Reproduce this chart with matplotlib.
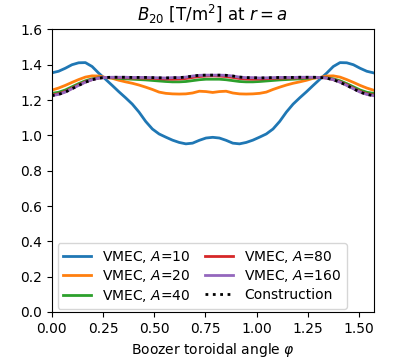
import numpy as np
import matplotlib.pyplot as plt

# Boozer toroidal angle samples over one field period (0 .. pi/2)
phi = np.linspace(0, np.pi / 2, 49)

# B20 at r = a
b20_a10 = [1.354, 1.363, 1.380, 1.400, 1.411, 1.412, 1.390, 1.352, 1.318, 1.283,
           1.247, 1.213, 1.177, 1.132, 1.079, 1.036, 1.008, 0.990, 0.973, 0.960,
           0.952, 0.956, 0.972, 0.985, 0.989, 0.985, 0.972, 0.956, 0.952, 0.960,
           0.973, 0.990, 1.008, 1.036, 1.079, 1.132, 1.177, 1.213, 1.247, 1.283,
           1.318, 1.352, 1.390, 1.412, 1.411, 1.400, 1.380, 1.363, 1.354]
b20_a20 = [1.256, 1.268, 1.283, 1.300, 1.316, 1.330, 1.337, 1.336, 1.328, 1.323,
           1.312, 1.303, 1.295, 1.285, 1.273, 1.260, 1.245, 1.238, 1.235, 1.234,
           1.235, 1.240, 1.250, 1.248, 1.243, 1.248, 1.250, 1.240, 1.235, 1.234,
           1.235, 1.238, 1.245, 1.260, 1.273, 1.285, 1.295, 1.303, 1.312, 1.323,
           1.328, 1.336, 1.337, 1.330, 1.316, 1.300, 1.283, 1.268, 1.256]
b20_a40 = [1.238, 1.244, 1.257, 1.275, 1.293, 1.309, 1.320, 1.326, 1.328, 1.326,
           1.323, 1.320, 1.318, 1.316, 1.314, 1.311, 1.308, 1.305, 1.303, 1.303,
           1.305, 1.310, 1.315, 1.318, 1.318, 1.318, 1.315, 1.310, 1.305, 1.303,
           1.303, 1.305, 1.308, 1.311, 1.314, 1.316, 1.318, 1.320, 1.323, 1.326,
           1.328, 1.326, 1.320, 1.309, 1.293, 1.275, 1.257, 1.244, 1.238]
b20_a80 = [1.228, 1.235, 1.248, 1.267, 1.286, 1.303, 1.316, 1.325, 1.328, 1.328,
           1.327, 1.326, 1.325, 1.325, 1.324, 1.323, 1.321, 1.319, 1.318, 1.319,
           1.322, 1.328, 1.333, 1.336, 1.337, 1.336, 1.333, 1.328, 1.322, 1.319,
           1.318, 1.319, 1.321, 1.323, 1.324, 1.325, 1.325, 1.326, 1.327, 1.328,
           1.328, 1.325, 1.316, 1.303, 1.286, 1.267, 1.248, 1.235, 1.228]
b20_a160 = [1.225, 1.232, 1.245, 1.264, 1.283, 1.301, 1.315, 1.324, 1.328, 1.329,
            1.329, 1.329, 1.328, 1.328, 1.328, 1.327, 1.326, 1.325, 1.327, 1.327,
            1.330, 1.336, 1.340, 1.341, 1.341, 1.341, 1.340, 1.336, 1.330, 1.327,
            1.327, 1.325, 1.326, 1.327, 1.328, 1.328, 1.328, 1.329, 1.329, 1.329,
            1.328, 1.324, 1.315, 1.301, 1.283, 1.264, 1.245, 1.232, 1.225]
b20_construction = b20_a160

aspect_ratios = [10, 20, 40, 80, 160]
vmec_series = [b20_a10, b20_a20, b20_a40, b20_a80, b20_a160]

fig = plt.figure(figsize=(4.15, 3.63), dpi=100)
ax = fig.add_axes([0.125, 0.1405, 0.775, 0.7785])

for A, vals in zip(aspect_ratios, vmec_series):
    ax.plot(phi, vals, lw=2, label=f'VMEC, $A$={A}')
ax.plot(phi, b20_construction, 'k:', lw=2, label='Construction')

ax.set_xlim(0, np.pi / 2)
ax.set_ylim(0, 1.6)
ax.set_xlabel(r'Boozer toroidal angle $\varphi$')
ax.set_title(r'$B_{20}$ [T/m$^2$] at $r=a$')
ax.legend(ncol=2, loc='lower left', bbox_to_anchor=(0.018, 0.01),
          borderaxespad=0, columnspacing=1.05, labelspacing=0.25)

fig.savefig('out.png')
